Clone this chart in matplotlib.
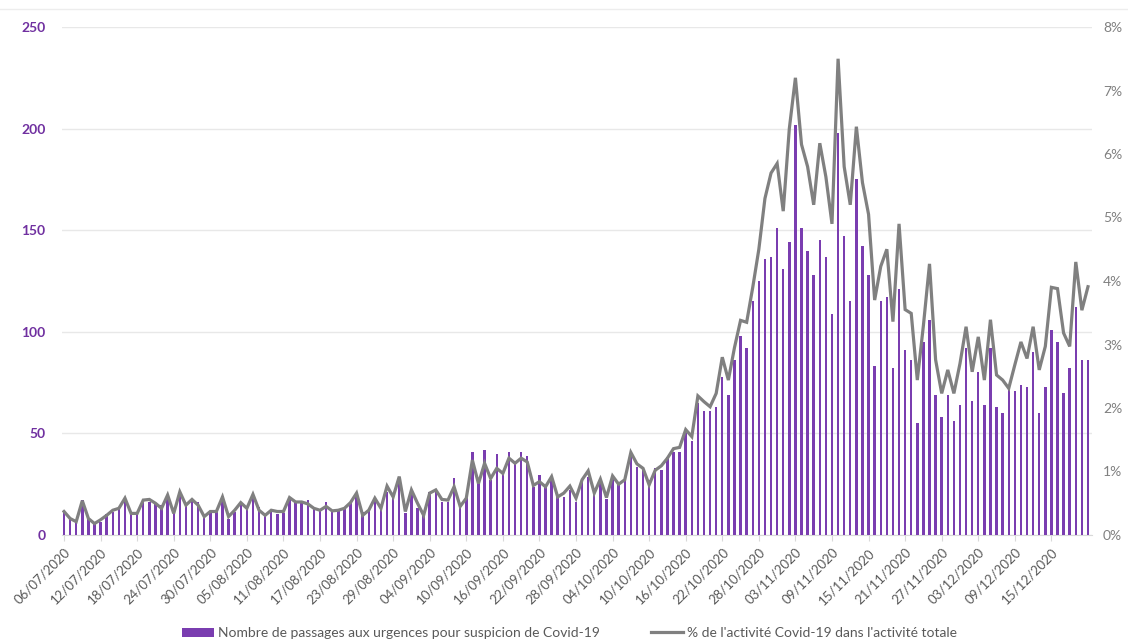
import matplotlib
matplotlib.use('Agg')
import matplotlib.pyplot as plt
import numpy as np
import pandas as pd
from matplotlib.lines import Line2D
from matplotlib.patches import Patch

plt.rcParams['font.family'] = ['Lato', 'DejaVu Sans']

# --- Données (lecture du graphique) ---
dates = pd.date_range('2020-07-06', '2020-12-21', freq='D')

passages = [
    11.5, 8, 6.5, 17, 8, 6, 6.5, 10.5, 11.5, 13, 18, 10.5, 10.5, 16, 16, 15.5, 15, 19.5, 11.5, 19,
    15, 17, 16, 9, 11.5, 11.5, 19, 8, 11.5, 15.5, 13, 19.5, 14, 10, 11.5, 10.5, 11, 18, 16,
    16.4, 17.2, 13.1, 12.3, 16.4, 11.5, 12.3, 13.1, 15.6, 19.7, 11.5, 12.3, 17.2, 13.1, 21.3, 19.7,
    28.7, 10.7, 20.5, 13.1, 10.7, 21.3, 22.1, 16.4, 16.4, 27.9, 13.9, 18, 41, 25.4, 42, 27, 40,
    31.1, 41, 35.2, 41, 38.9, 23.8, 29.5,
    23.8, 28.7, 18.9, 18.9, 22.1, 16.4, 26.2, 28.7, 22.1, 27.5, 17.5, 28.7, 25.4, 27, 38.5, 33.3,
    32, 27, 32.8, 32, 38.5, 41, 41, 50, 46.5, 65, 61, 61, 63,
    78, 69, 86, 98, 92, 115, 125, 136, 137, 151, 131, 144, 202, 151, 140, 128, 145, 137, 109, 198,
    147, 115, 175, 142, 128, 83,
    115, 117, 82, 121, 91, 86, 55, 95, 106, 69, 58, 69, 56, 64, 92, 66, 80, 64, 92, 63, 60, 72, 71,
    74, 73, 90, 60, 73, 101, 95, 70, 82, 112, 86, 86,
]

part_activite = [
    0.37, 0.26, 0.21, 0.54, 0.26, 0.18, 0.24, 0.31, 0.39, 0.42, 0.58, 0.34, 0.34, 0.55, 0.56, 0.5,
    0.42, 0.63, 0.34, 0.68, 0.47, 0.56, 0.47, 0.29, 0.37, 0.37, 0.6, 0.29, 0.39, 0.51, 0.42, 0.64,
    0.39, 0.31, 0.39, 0.37, 0.37, 0.59, 0.52,
    0.52, 0.49, 0.42, 0.39, 0.45, 0.38, 0.39, 0.42, 0.51, 0.66, 0.31, 0.39, 0.58, 0.42, 0.77, 0.6,
    0.92, 0.37, 0.71, 0.5, 0.31, 0.66, 0.71, 0.56, 0.55, 0.76, 0.45, 0.58, 1.18, 0.81, 1.13, 0.89,
    1.05, 0.97, 1.21, 1.13, 1.21, 1.15, 0.78, 0.84,
    0.76, 0.92, 0.6, 0.66, 0.77, 0.58, 0.87, 1.01, 0.66, 0.88, 0.59, 0.93, 0.8, 0.87, 1.3, 1.12,
    1.05, 0.79, 1.02, 1.09, 1.21, 1.36, 1.38, 1.66, 1.55, 2.19, 2.1, 2.02, 2.23,
    2.8, 2.44, 2.95, 3.38, 3.35, 3.9, 4.5, 5.3, 5.7, 5.85, 5.1, 6.4, 7.2, 6.15, 5.8, 5.2, 6.17,
    5.64, 4.9, 7.5, 5.8, 5.2, 6.43, 5.55, 5.05, 3.7,
    4.23, 4.5, 3.36, 4.9, 3.55, 3.49, 2.44, 3.3, 4.27, 2.76, 2.23, 2.6, 2.23, 2.7, 3.28, 2.57,
    3.12, 2.44, 3.39, 2.52, 2.44, 2.31, 2.68, 3.04, 2.78, 3.28, 2.6, 2.97, 3.9, 3.88, 3.18, 2.97,
    4.3, 3.54, 3.91,
]

VIOLET = '#7A3DB0'
GRIS = '#808080'

x = np.arange(len(dates))

fig = plt.figure(figsize=(11.28, 6.39), dpi=100)
ax1 = fig.add_axes([62 / 1128, 1 - 535 / 639, (1092 - 62) / 1128, (535 - 27) / 639])

ax1.bar(x, passages, width=0.4, color=VIOLET, zorder=3)
ax1.set_ylim(0, 250)
ax1.set_yticks(np.arange(0, 251, 50))
ax1.set_xlim(-0.33, len(dates) - 1 + 0.66)
ax1.grid(axis='y', color='#E8E8E8', lw=1.0, zorder=0)
ax1.tick_params(axis='y', length=0, pad=12, labelsize=10, labelcolor='#7030A0')
for lab in ax1.get_yticklabels():
    lab.set_fontweight('bold')

# Axe des dates : une étiquette tous les 6 jours, dernière au 15/12
ticks = x[:163:6]
ax1.set_xticks(ticks)
ax1.set_xticklabels([dates[i].strftime('%d/%m/%Y') for i in ticks],
                    rotation=45, ha='right', rotation_mode='anchor',
                    fontsize=9.5, color='#595959')
ax1.tick_params(axis='x', length=4, color='#D9D9D9', pad=4)

for s in ('top', 'right', 'left'):
    ax1.spines[s].set_visible(False)
ax1.spines['bottom'].set_color('#D9D9D9')

# Deuxième axe — part de l'activité
ax2 = ax1.twinx()
ax2.plot(x, part_activite, color=GRIS, lw=2.3, zorder=5, solid_joinstyle='miter')
ax2.set_ylim(0, 8)
ax2.set_yticks(np.arange(0, 9, 1))
ax2.set_yticklabels([f'{v}%' for v in range(9)])
ax2.tick_params(axis='y', length=0, pad=8, labelsize=10, labelcolor=GRIS)
for s in ('top', 'right', 'left', 'bottom'):
    ax2.spines[s].set_visible(False)

# Légende en bas
handles = [
    Patch(facecolor=VIOLET, edgecolor='none'),
    Line2D([0], [0], color=GRIS, lw=2.3),
]
fig.legend(handles,
           ['Nombre de passages aux urgences pour suspicion de Covid-19',
            "% de l'activité Covid-19 dans l'activité totale"],
           loc='lower center', bbox_to_anchor=(0.505, -0.02), ncol=2,
           frameon=False, fontsize=10, columnspacing=3.65, handlelength=2.3,
           handletextpad=0.3, labelcolor='#595959')

# Trait fin en haut du cadre
fig.add_artist(Line2D([0, 1], [1 - 9 / 639, 1 - 9 / 639], color='#EDEDED', lw=1))

fig.savefig('out.png', dpi=100)
plt.close()
